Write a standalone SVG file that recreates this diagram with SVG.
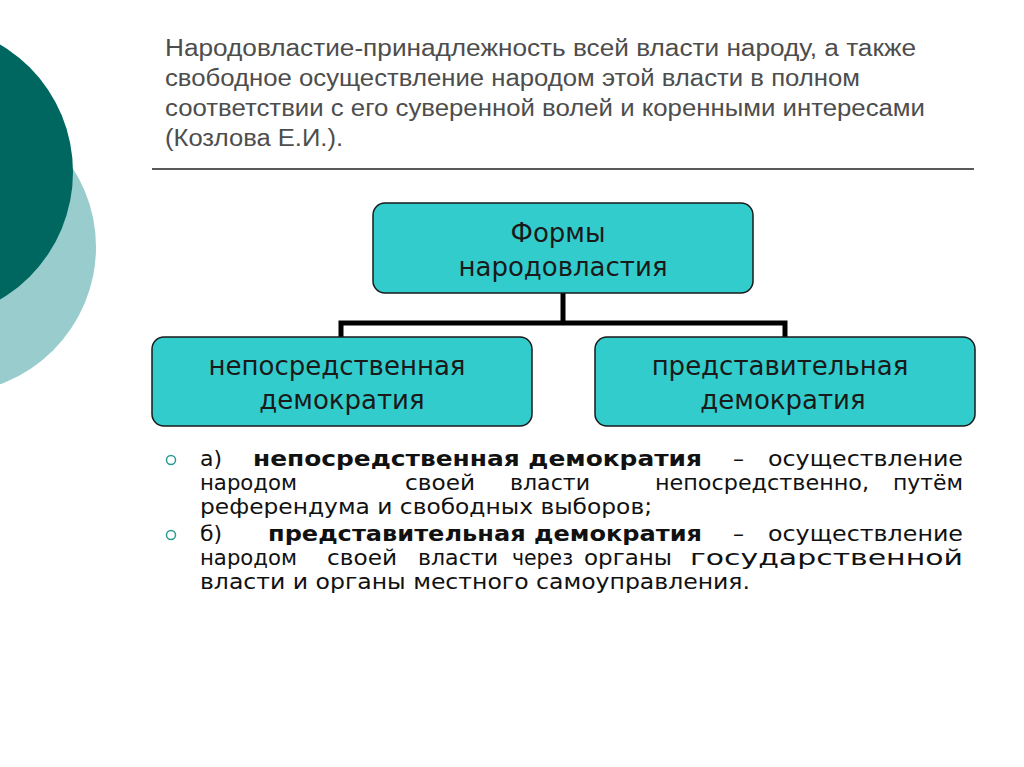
<svg xmlns="http://www.w3.org/2000/svg" width="1024" height="767" viewBox="0 0 1024 767">
<style>
.hd{font-family:"Liberation Sans",Arial,sans-serif;font-size:23px;fill:#4d4d4d}
.bx{fill:#33cccc;stroke:#1a1a1a;stroke-width:1.5}
.bt{font-family:"DejaVu Sans",sans-serif;font-size:26px;fill:#1a1a1a;text-anchor:middle}
.tx{font-family:"DejaVu Sans",sans-serif;font-size:22px;fill:#111}
.b{font-weight:bold}
.bul{fill:none;stroke:#2a9a92;stroke-width:1.5}
</style>
<rect width="1024" height="767" fill="#fff"/>
<circle cx="-50" cy="247" r="146" fill="#99cccc"/>
<circle cx="-75" cy="172" r="148" fill="#006660"/>
<g id="header">
<text class="hd" x="165" y="56" textLength="751" lengthAdjust="spacingAndGlyphs">Народовластие-принадлежность всей власти народу, а также</text>
<text class="hd" x="165" y="86" textLength="695" lengthAdjust="spacingAndGlyphs">свободное осуществление народом этой власти в полном</text>
<text class="hd" x="165" y="116" textLength="760" lengthAdjust="spacingAndGlyphs">соответствии с его суверенной волей и коренными интересами</text>
<text class="hd" x="165" y="146" textLength="178" lengthAdjust="spacingAndGlyphs">(Козлова Е.И.).</text>
<line x1="152" y1="169" x2="974" y2="169" stroke="#222" stroke-width="1.5"/>
</g>
<g id="connectors" stroke="#000" stroke-width="5" fill="none">
<path d="M563 293V323M341 337V323H785V337"/>
</g>
<g id="n-forms">
<rect class="bx" x="373" y="203" width="380" height="90" rx="12"/>
<text class="bt" x="558" y="242">Формы</text>
<text class="bt" x="563" y="276">народовластия</text>
</g>
<g id="n-direct">
<rect class="bx" x="152" y="337" width="380" height="89" rx="12"/>
<text class="bt" x="337" y="375">непосредственная</text>
<text class="bt" x="342" y="409">демократия</text>
</g>
<g id="n-repr">
<rect class="bx" x="595" y="337" width="380" height="89" rx="12"/>
<text class="bt" x="780" y="375">представительная</text>
<text class="bt" x="783" y="409">демократия</text>
</g>
<g id="text">
<circle class="bul" cx="171" cy="460" r="4.5"/>
<circle class="bul" cx="171" cy="535" r="4.5"/>
<text class="tx" y="466"><tspan x="200">а)</tspan><tspan class="b" x="253" textLength="449" lengthAdjust="spacingAndGlyphs">непосредственная демократия</tspan><tspan x="733">–</tspan><tspan x="768" textLength="195" lengthAdjust="spacingAndGlyphs">осуществление</tspan></text>
<text class="tx" y="490"><tspan x="200" textLength="97" lengthAdjust="spacingAndGlyphs">народом</tspan><tspan x="405" textLength="70" lengthAdjust="spacingAndGlyphs">своей</tspan><tspan x="510" textLength="80" lengthAdjust="spacingAndGlyphs">власти</tspan><tspan x="655" textLength="214" lengthAdjust="spacingAndGlyphs">непосредственно,</tspan><tspan x="893" textLength="70" lengthAdjust="spacingAndGlyphs">путём</tspan></text>
<text class="tx" x="200" y="514" textLength="452" lengthAdjust="spacingAndGlyphs">референдума и свободных выборов;</text>
<text class="tx" y="541"><tspan x="200">б)</tspan><tspan class="b" x="268" textLength="434" lengthAdjust="spacingAndGlyphs">представительная демократия</tspan><tspan x="733">–</tspan><tspan x="768" textLength="195" lengthAdjust="spacingAndGlyphs">осуществление</tspan></text>
<text class="tx" y="565"><tspan x="200" textLength="97" lengthAdjust="spacingAndGlyphs">народом</tspan><tspan x="327" textLength="70" lengthAdjust="spacingAndGlyphs">своей</tspan><tspan x="418" textLength="80" lengthAdjust="spacingAndGlyphs">власти</tspan><tspan x="512" textLength="61" lengthAdjust="spacingAndGlyphs">через</tspan><tspan x="584" textLength="88" lengthAdjust="spacingAndGlyphs">органы</tspan><tspan x="690" textLength="273" lengthAdjust="spacingAndGlyphs">государственной</tspan></text>
<text class="tx" x="200" y="589" textLength="550" lengthAdjust="spacingAndGlyphs">власти и органы местного самоуправления.</text>
</g>
</svg>
